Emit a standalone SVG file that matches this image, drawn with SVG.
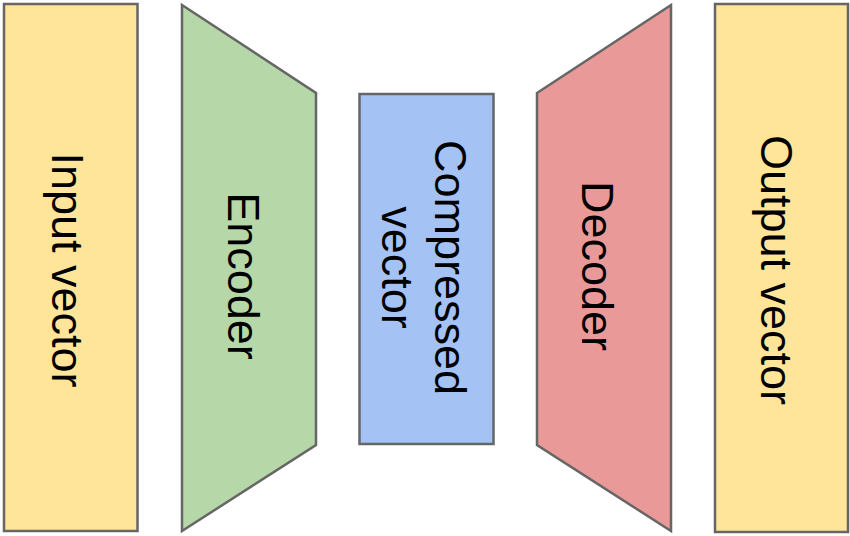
<svg xmlns="http://www.w3.org/2000/svg" width="850" height="536" viewBox="0 0 850 536">
<style>
.s{stroke:#666666;stroke-width:2.5;stroke-linejoin:miter}
.t{font-family:"Liberation Sans",Arial,sans-serif;font-size:45px;fill:#000;text-anchor:middle}
</style>
<rect width="850" height="536" fill="#ffffff"/>
<g id="input">
<rect class="s" x="4" y="4" width="133.5" height="527" fill="#FFE599"/>
<text class="t" transform="translate(52,270) rotate(90)">Input vector</text>
</g>
<g id="encoder">
<polygon class="s" points="182,5 316,93 316,445 182,531" fill="#B6D7A8"/>
<text class="t" transform="translate(228,276) rotate(90)">Encoder</text>
</g>
<g id="compressed">
<rect class="s" x="359.5" y="94" width="134" height="350" fill="#A4C2F4"/>
<text class="t" transform="translate(435,267.5) rotate(90)">Compressed</text>
<text class="t" transform="translate(382,267.5) rotate(90)">vector</text>
</g>
<g id="decoder">
<polygon class="s" points="537,93 671,5 671,531 537,445" fill="#EA9999"/>
<text class="t" transform="translate(582,266) rotate(90)">Decoder</text>
</g>
<g id="output">
<rect class="s" x="715" y="4" width="133" height="528" fill="#FFE599"/>
<text class="t" transform="translate(761,270) rotate(90)">Output vector</text>
</g>
<g id="connectors"></g>
</svg>
